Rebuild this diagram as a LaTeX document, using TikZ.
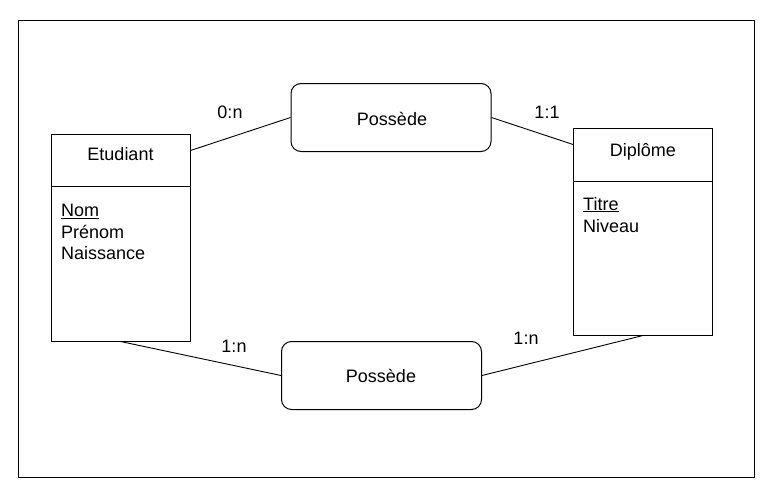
\documentclass[tikz,border=0pt]{standalone}
\usepackage{fontspec}
\setmainfont{Liberation Sans}
\begin{document}
\begin{tikzpicture}[x=1pt,y=-1pt,
  txt/.style={font=\fontsize{18}{21}\selectfont, inner sep=0pt},
  entity/.style={draw, line width=1pt, minimum width=139pt, minimum height=207pt, inner sep=0pt},
  relation/.style={draw, line width=1pt, rounded corners=10pt, minimum width=200pt, minimum height=68pt, inner sep=0pt},
  link/.style={line width=0.9pt}]
\useasboundingbox (0,0) rectangle (772,498);
\node[draw, line width=1pt, minimum width=736pt, minimum height=457pt, inner sep=0pt] (frame) at (386,248.8) {};
% entities
\node[entity] (etu) at (120.5,237.5) {};
\node[entity] (dip) at (643,231.5) {};
\draw[line width=1pt] ([yshift=-53pt]etu.north west) coordinate (etuL) -- (etuL -| etu.east);
\draw[line width=1pt] ([yshift=-54pt]dip.north west) coordinate (dipL) -- (dipL -| dip.east);
\node[txt, anchor=base] (etuT) at (120.5,160.5) {Etudiant};
\node[txt, anchor=base west] (nom) at (61,216.5) {\underline{Nom}};
\node[txt, anchor=base west] (prenom) at (61,238) {Prénom};
\node[txt, anchor=base west] (naiss) at (61,259.5) {Naissance};
\node[txt, anchor=base] (dipT) at (643,156) {Diplôme};
\node[txt, anchor=base west] (titre) at (583,210) {\underline{Titre}};
\node[txt, anchor=base west] (niveau) at (583,232) {Niveau};
% relations
\node[relation] (r1) at (391,117.5) {};
\node[txt, anchor=base] (r1T) at (392,125.5) {Possède};
\node[relation] (r2) at (381.5,375.5) {};
\node[txt, anchor=base] (r2T) at (381,382.5) {Possède};
% links
\draw[link] ([yshift=-17pt]etu.north east) -- (r1.west);
\draw[link] (r1.east) -- ([yshift=-17pt]dip.north west);
\draw[link] (etu.south) -- (r2.west);
\draw[link] (r2.east) -- (dip.south);
% cardinalities
\node[txt, anchor=base] (c1) at (230,118.5) {0:n};
\node[txt, anchor=base] (c2) at (547,118.5) {1:1};
\node[txt, anchor=base] (c3) at (234,352) {1:n};
\node[txt, anchor=base] (c4) at (526,344) {1:n};
\end{tikzpicture}
\end{document}
